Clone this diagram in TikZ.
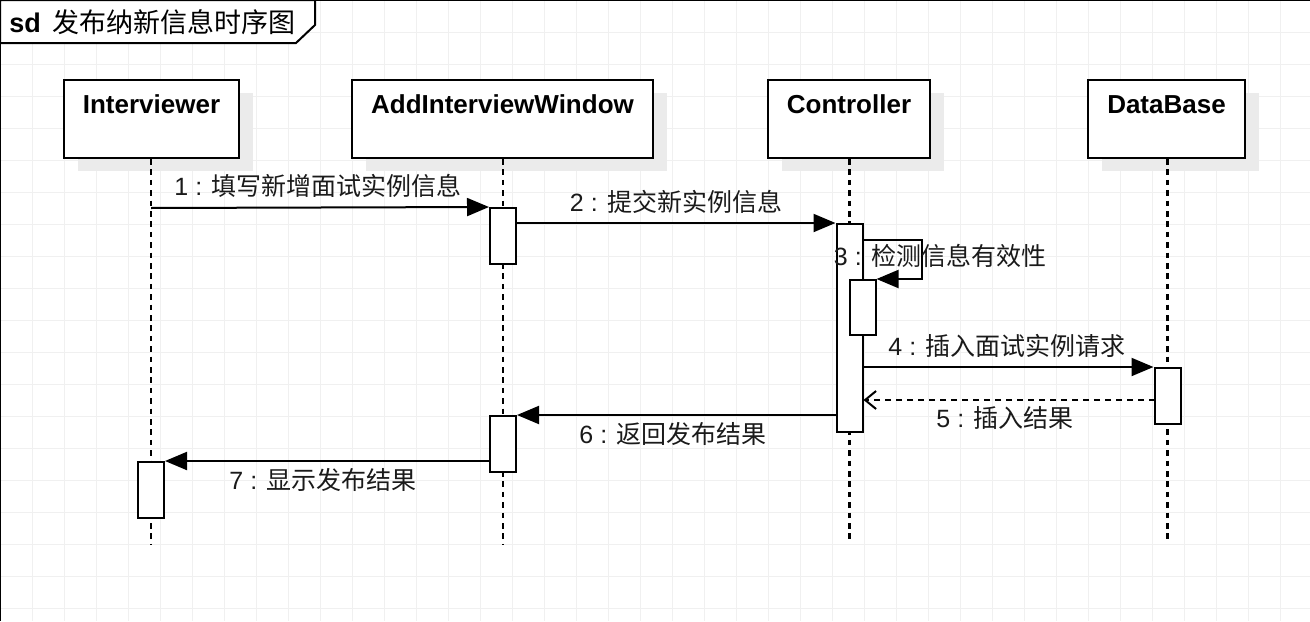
\documentclass[tikz,border=0pt]{standalone}
\usepackage{fontspec}
\setmainfont{Liberation Sans}
\newfontfamily\cjk{Noto Sans CJK SC}
\usetikzlibrary{positioning,calc,arrows.meta,shadows}
\definecolor{gridgray}{HTML}{F0F0F0}
\definecolor{shadowgray}{HTML}{EBEBEB}
\definecolor{inkdark}{HTML}{1A1A1A}

\begin{document}
\begin{tikzpicture}[x=0.5pt, y=-0.5pt,
  lifebox/.style={draw, line width=1pt, fill=white, inner sep=0pt, minimum height=39pt,
    drop shadow={shadow xshift=7pt, shadow yshift=-6.5pt, fill=shadowgray, opacity=1}},
  lifetext/.style={font=\fontsize{13pt}{15pt}\selectfont\bfseries, anchor=base, inner sep=0pt},
  actbox/.style={draw, line width=1pt, fill=white, inner sep=0pt, minimum width=13pt},
  lifeline/.style={line width=1.1pt, dash pattern=on 2.8pt off 2.4pt},
  msg/.style={line width=1pt, -{Triangle[length=11pt, width=9pt]}},
  retmsg/.style={line width=1pt, dash pattern=on 3pt off 2.5pt, -{Straight Barb[length=5.5pt, width=9pt, line width=1pt]}},
  msglabel/.style={font=\fontsize{12.5pt}{15pt}\selectfont\color{inkdark}, inner sep=0pt},
]
\useasboundingbox (0,0) rectangle (1310,621);
% background grid, 32px
\foreach \gx in {32,64,...,1300} {
  \draw[gridgray, line width=0.5pt] (\gx,0) -- (\gx,621);
}
\foreach \gy in {32,64,...,620} {
  \draw[gridgray, line width=0.5pt] (0,\gy) -- (1310,\gy);
}
% frame
\draw[line width=1.2pt] (0,621) -- (0,0) -- (1310,0);
\draw[line width=1pt, fill=white] (0,0) -- (315,0) -- (315,25) -- (296,43) -- (0,43) -- cycle;
\node[font=\fontsize{13.5pt}{15pt}\selectfont, anchor=west, inner sep=0pt] (title) at (9,22)
  {\textbf{sd}\hspace{6pt}{\cjk 发布纳新信息时序图}};

% lifeline heads
\node[lifebox, minimum width=87.5pt]  (iv) at (151.5,119) {};
\node[lifebox, minimum width=150.5pt] (aw) at (502.5,119) {};
\node[lifebox, minimum width=81pt]    (ct) at (849,119) {};
\node[lifebox, minimum width=78.5pt]  (db) at (1166.5,119) {};
\node[lifetext] (ivt) at (151.5,113) {Interviewer};
\node[lifetext] (awt) at (502.5,113) {AddInterviewWindow};
\node[lifetext] (ctt) at (849,113) {Controller};
\node[lifetext] (dbt) at (1166.5,113) {DataBase};

% lifelines
\coordinate (ivend) at (151,545);
\coordinate (awend) at (503,545);
\coordinate (ctend) at (849.5,540);
\coordinate (dbend) at (1167.5,540);
\draw[lifeline] (iv.south -| ivend) -- (ivend);
\draw[lifeline] (aw.south -| awend) -- (awend);
\draw[lifeline] (ct.south -| ctend) -- (ctend);
\draw[lifeline] (db.south -| dbend) -- (dbend);

% activations
\node[actbox, minimum height=28pt]  (a1)  at (503,236) {};
\node[actbox, minimum height=104pt] (c1)  at (849.5,328) {};
\node[actbox, minimum height=27.5pt] (c2) at (862.5,307.5) {};
\node[actbox, minimum height=28pt]  (db1) at (1167.5,396) {};
\node[actbox, minimum height=28pt]  (a2)  at (503,444) {};
\node[actbox, minimum height=28pt]  (i1)  at (151,490) {};

% messages
\coordinate (m1) at (151,208);
\draw[msg] (m1) -- (a1.north west);
\node[msglabel] (l1) at (318,186) {1 : {\cjk 填写新增面试实例信息}};

\draw[msg] (c1.north west -| a1.east) -- (c1.north west);
\node[msglabel] (l2) at (676,202) {2 : {\cjk 提交新实例信息}};

\coordinate (m3) at (922,240);
\draw[msg] (m3 -| c1.east) -- (m3) |- (c2.north east);
\node[msglabel] (l3) at (940,256) {3 : {\cjk 检测信息有效性}};

\draw[msg] (db1.north west -| c1.east) -- (db1.north west);
\node[msglabel] (l4) at (1007,346) {4 : {\cjk 插入面试实例请求}};

\coordinate (m5) at (1155,400);
\draw[retmsg] (m5) -- (m5 -| c1.east);
\node[msglabel] (l5) at (1005,418) {5 : {\cjk 插入结果}};

\draw[msg] (a2.north east -| c1.west) -- (a2.north east);
\node[msglabel] (l6) at (673,434) {6 : {\cjk 返回发布结果}};

\draw[msg] (i1.north east -| a2.west) -- (i1.north east);
\node[msglabel] (l7) at (323,480) {7 : {\cjk 显示发布结果}};
\end{tikzpicture}
\end{document}
